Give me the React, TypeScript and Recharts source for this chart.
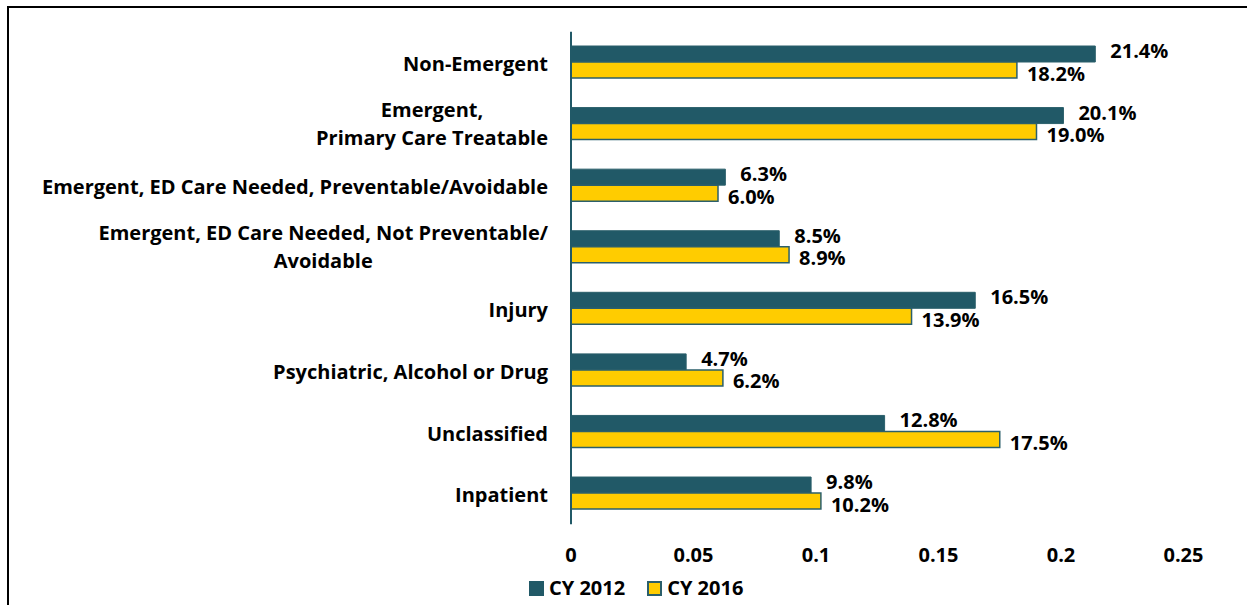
import React from 'react';
import { BarChart, Bar, XAxis, YAxis, Legend, LabelList } from 'recharts';

const categories = [
  'Non-Emergent',
  'Emergent,\nPrimary Care Treatable',
  'Emergent, ED Care Needed, Preventable/Avoidable',
  'Emergent, ED Care Needed, Not Preventable/\nAvoidable',
  'Injury',
  'Psychiatric, Alcohol or Drug',
  'Unclassified',
  'Inpatient',
];
const cy2012 = [0.214, 0.201, 0.063, 0.085, 0.165, 0.047, 0.128, 0.098];
const cy2016 = [0.182, 0.19, 0.06, 0.089, 0.139, 0.062, 0.175, 0.102];
const xTicks = [0, 0.05, 0.1, 0.15, 0.2, 0.25];
const seriesNames = ['CY 2012', 'CY 2016'];

const data = categories.map((name, i) => ({ name, a: cy2012[i], b: cy2016[i] }));

const FONT = '"Open Sans", sans-serif';
const DARK = '#215967';
const YELLOW = '#FFCC00';
const STROKE = '#2B5F6B';

let ctx: CanvasRenderingContext2D | null = null;
const measure = (s: string, size: number) => {
  if (!ctx) ctx = document.createElement('canvas').getContext('2d');
  if (!ctx) return s.length * size * 0.55;
  ctx.font = `bold ${size}px "Open Sans"`;
  return ctx.measureText(s).width;
};

const CatTick = (props: any) => {
  const { x, y, payload } = props;
  const size = 20;
  const lines: string[] = String(payload.value).split('\n');
  const right = x - 15;
  const capHalf = size * 0.36;
  if (lines.length === 1) {
    return (
      <text x={right} y={y + 1.5 + capHalf} textAnchor="end" fontFamily={FONT} fontWeight="bold" fontSize={size} fill="#000">
        {lines[0]}
      </text>
    );
  }
  const maxW = Math.max(...lines.map((l) => measure(l, size)));
  const cx = right - maxW / 2;
  const lh = 28;
  const start = y - ((lines.length - 1) * lh) / 2;
  return (
    <g>
      {lines.map((l, i) => (
        <text key={i} x={cx} y={start + i * lh + capHalf} textAnchor="middle" fontFamily={FONT} fontWeight="bold" fontSize={size} fill="#000">
          {l}
        </text>
      ))}
    </g>
  );
};

const fmt = (v: number) => (v * 100).toFixed(1) + '%';

const makeLabel = (dx: number, dy: number) => (props: any) => {
  const { x, y, width, height, value } = props;
  return (
    <text
      x={x + width + dx}
      y={y + height / 2 + dy + 7}
      fontFamily={FONT}
      fontWeight="bold"
      fontSize={20}
      fill="#000"
      textAnchor="start"
    >
      {fmt(value)}
    </text>
  );
};

const LegendContent = () => (
  <div style={{ display: 'flex', alignItems: 'center', fontFamily: FONT, fontWeight: 'bold', fontSize: 20, lineHeight: '22px', color: '#000', whiteSpace: 'nowrap' }}>
    <span style={{ display: 'inline-block', width: 15, height: 15, background: DARK, marginRight: 5 }} />
    <span style={{ marginRight: 22 }}>{seriesNames[0]}</span>
    <span style={{ display: 'inline-block', width: 11, height: 11, background: YELLOW, border: `2px solid ${STROKE}`, marginRight: 5 }} />
    <span>{seriesNames[1]}</span>
  </div>
);

export default function App() {
  return (
    <div style={{ position: 'absolute', left: 0, top: 0, width: 1247, height: 605, overflow: 'hidden', background: '#fff' }}>
      <div style={{ position: 'absolute', left: 7, top: 6, width: 1400, height: 800, border: '2px solid #000' }} />
      <div style={{ position: 'absolute', left: 0, top: 0 }}>
        <BarChart
          width={1247}
          height={605}
          data={data}
          layout="vertical"
          margin={{ top: 31.7, right: 63.5, bottom: 0, left: 0 }}
          barGap={0}
          barCategoryGap={14.3}
        >
          <XAxis
            type="number"
            domain={[0, 0.25]}
            ticks={xTicks}
            axisLine={false}
            tickLine={false}
            height={80.7}
            tickMargin={17}
            interval={0}
            tick={{ fontFamily: FONT, fontWeight: 'bold', fontSize: 20, fill: '#000' }}
          />
          <YAxis
            type="category"
            dataKey="name"
            width={571}
            axisLine={{ stroke: DARK, strokeWidth: 2 }}
            tickLine={false}
            interval={0}
            tick={<CatTick />}
          />
          <Legend
            layout="horizontal"
            verticalAlign="middle"
            align="center"
            wrapperStyle={{ top: 577, left: 529, width: 300, height: 22 }}
            content={<LegendContent />}
          />
          <Bar dataKey="a" name={seriesNames[0]} fill={DARK} stroke={STROKE} strokeWidth={1} isAnimationActive={false}>
            <LabelList dataKey="a" content={makeLabel(15, -3)} />
          </Bar>
          <Bar dataKey="b" name={seriesNames[1]} fill={YELLOW} stroke={STROKE} strokeWidth={1.5} isAnimationActive={false}>
            <LabelList dataKey="b" content={makeLabel(10, 3.5)} />
          </Bar>
        </BarChart>
      </div>
    </div>
  );
}
